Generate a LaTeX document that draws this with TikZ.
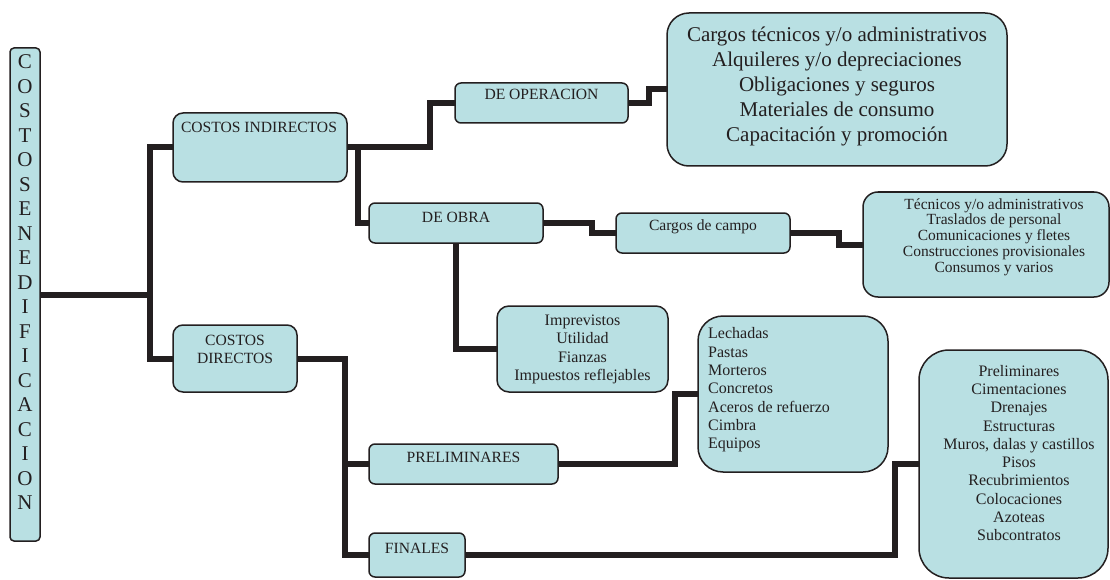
\documentclass[tikz,border=0pt]{standalone}
\usepackage{fontspec}
\setmainfont{Liberation Serif}
\definecolor{boxfill}{RGB}{185,224,227}
\definecolor{ink}{RGB}{35,31,32}
\tikzset{
  box/.style={draw=ink, fill=boxfill, line width=1.5pt, inner sep=0pt, outer sep=0pt},
  lbl/.style={text=ink, inner sep=0pt, align=center},
  conn/.style={draw=ink, line width=6pt, line cap=butt, line join=miter}
}
\newcommand{\fa}{\fontsize{15.6}{18}\selectfont}
\newcommand{\fb}{\fontsize{16}{18.3}\selectfont}
\newcommand{\fc}{\fontsize{15.5}{15.8}\selectfont}
\newcommand{\fd}{\fontsize{21}{25}\selectfont}
\newcommand{\fe}{\fontsize{21}{24.5}\selectfont}
\begin{document}
\begin{tikzpicture}[x=1pt,y=-1pt]
\useasboundingbox (0,0) rectangle (1110,580);
% boxes
\node[box, rounded corners=4pt, minimum width=30pt, minimum height=493pt] (title) at (25,294.5) {};
\node[box, rounded corners=10pt, minimum width=174pt, minimum height=69pt] (ci) at (260,147.5) {};
\node[box, rounded corners=10pt, minimum width=124pt, minimum height=67pt] (cd) at (235,358.5) {};
\node[box, rounded corners=6pt, minimum width=173pt, minimum height=40pt] (deop) at (541.5,103) {};
\node[box, rounded corners=6pt, minimum width=174pt, minimum height=40pt] (deobra) at (456,223) {};
\node[box, rounded corners=22pt, minimum width=340pt, minimum height=153pt] (big) at (837,89.5) {};
\node[box, rounded corners=6pt, minimum width=174pt, minimum height=40pt] (cdc) at (703,233) {};
\node[box, rounded corners=15pt, minimum width=246pt, minimum height=105pt] (tec) at (986,244.5) {};
\node[box, rounded corners=12pt, minimum width=171pt, minimum height=86pt] (imp) at (582.5,349) {};
\node[box, rounded corners=6pt, minimum width=189pt, minimum height=40pt] (pre) at (463.5,464) {};
\node[box, rounded corners=6pt, minimum width=96pt, minimum height=44pt] (fin) at (417,555) {};
\node[box, rounded corners=25pt, minimum width=190pt, minimum height=156pt] (lech) at (793,394) {};
\node[box, rounded corners=30pt, minimum width=189pt, minimum height=228pt] (br) at (1013.5,464) {};
% connectors
\draw[conn] (title.east) -- ++(113,0);
\draw[conn] (ci.west) -- ++(-23,0) |- (cd.west);
\draw[conn] (ci.east) -- ++(83,0) |- (deop.west);
\draw[conn] (ci.east) -- ++(11,0) |- (deobra.west);
\draw[conn] (deop.east) -- ++(21,0) |- (big.west);
\draw[conn] (deobra.east) -- ++(49,0) |- (cdc.west);
\draw[conn] (cdc.east) -- ++(49,0) |- (tec.west);
\draw[conn] (deobra.south) |- (imp.west);
\draw[conn] (cd.east) -- ++(48,0) |- (fin.west);
\draw[conn] (pre.west) -- ++(-27,0);
\draw[conn] (pre.east) -- ++(117,0) |- (lech.west);
\draw[conn] (fin.east) -- ++(430,0) |- (br.west);
% labels
\node[lbl, font=\fe] (title-t) at (25,282.5) {C\\O\\S\\T\\O\\S\\E\\N\\E\\D\\I\\F\\I\\C\\A\\C\\I\\O\\N};
\node[lbl, font=\fa] (ci-t) at (259,127) {COSTOS INDIRECTOS};
\node[lbl, font=\fa] (cd-t) at (235,349) {COSTOS\\DIRECTOS};
\node[lbl, font=\fa] (deop-t) at (541.5,94) {DE OPERACION};
\node[lbl, font=\fa] (deobra-t) at (456,217) {DE OBRA};
\node[lbl, font=\fa] (cdc-t) at (703,227) {Cargos de campo};
\node[lbl, font=\fa] (pre-t) at (463.5,457) {PRELIMINARES};
\node[lbl, font=\fa] (fin-t) at (417,548) {FINALES};
\node[lbl, font=\fd] (big-t) at (837,86) {Cargos técnicos y/o administrativos\\Alquileres y/o depreciaciones\\Obligaciones y seguros\\Materiales de consumo\\Capacitación y promoción};
\node[lbl, font=\fc] (tec-t) at (994,237) {Técnicos y/o administrativos\\Traslados de personal\\Comunicaciones y fletes\\Construcciones provisionales\\Consumos y varios};
\node[lbl, font=\fb] (imp-t) at (582.5,349.5) {Imprevistos\\Utilidad\\Fianzas\\Impuestos reflejables};
\node[lbl, font=\fb, align=left, anchor=west] (lech-t) at (708,390) {Lechadas\\Pastas\\Morteros\\Concretos\\Aceros de refuerzo\\Cimbra\\Equipos};
\node[lbl, font=\fb] (br-t) at (1019,453) {Preliminares\\Cimentaciones\\Drenajes\\Estructuras\\Muros, dalas y castillos\\Pisos\\Recubrimientos\\Colocaciones\\Azoteas\\Subcontratos};
\end{tikzpicture}
\end{document}
